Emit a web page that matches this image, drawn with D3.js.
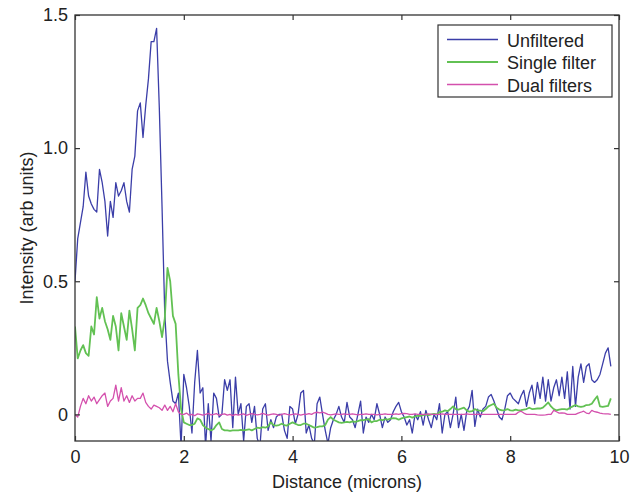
<!DOCTYPE html>
<html>
<head>
<meta charset="utf-8">
<script src="https://cdn.jsdelivr.net/npm/d3@7"></script>
<style>
  body { margin: 0; background: #fff; }
  svg { display: block; font-family: "Liberation Sans", Arial, sans-serif; }
  .axis text { font-size: 18px; fill: #222; }
  .axis line { stroke: #333; stroke-width: 1.2; }
  .axis path { display: none; }
</style>
</head>
<body>
<div class="grafic"></div>
<script>
// distance along the profile (microns), one sample every 0.05
const distance = [
  0, 0.05, 0.1, 0.15, 0.2, 0.25, 0.3, 0.35, 0.4, 0.45, 0.5, 0.55, 0.6, 0.65, 0.7, 0.75, 0.8, 0.85, 0.9, 0.95,
  1, 1.05, 1.1, 1.15, 1.2, 1.25, 1.3, 1.35, 1.4, 1.45, 1.5, 1.55, 1.6, 1.65, 1.7, 1.75, 1.8, 1.85, 1.9, 1.95,
  2, 2.05, 2.1, 2.15, 2.2, 2.25, 2.3, 2.35, 2.4, 2.45, 2.5, 2.55, 2.6, 2.65, 2.7, 2.75, 2.8, 2.85, 2.9, 2.95,
  3, 3.05, 3.1, 3.15, 3.2, 3.25, 3.3, 3.35, 3.4, 3.45, 3.5, 3.55, 3.6, 3.65, 3.7, 3.75, 3.8, 3.85, 3.9, 3.95,
  4, 4.05, 4.1, 4.15, 4.2, 4.25, 4.3, 4.35, 4.4, 4.45, 4.5, 4.55, 4.6, 4.65, 4.7, 4.75, 4.8, 4.85, 4.9, 4.95,
  5, 5.05, 5.1, 5.15, 5.2, 5.25, 5.3, 5.35, 5.4, 5.45, 5.5, 5.55, 5.6, 5.65, 5.7, 5.75, 5.8, 5.85, 5.9, 5.95,
  6, 6.05, 6.1, 6.15, 6.2, 6.25, 6.3, 6.35, 6.4, 6.45, 6.5, 6.55, 6.6, 6.65, 6.7, 6.75, 6.8, 6.85, 6.9, 6.95,
  7, 7.05, 7.1, 7.15, 7.2, 7.25, 7.3, 7.35, 7.4, 7.45, 7.5, 7.55, 7.6, 7.65, 7.7, 7.75, 7.8, 7.85, 7.9, 7.95,
  8, 8.05, 8.1, 8.15, 8.2, 8.25, 8.3, 8.35, 8.4, 8.45, 8.5, 8.55, 8.6, 8.65, 8.7, 8.75, 8.8, 8.85, 8.9, 8.95,
  9, 9.05, 9.1, 9.15, 9.2, 9.25, 9.3, 9.35, 9.4, 9.45, 9.5, 9.55, 9.6, 9.65, 9.7, 9.75, 9.8, 9.85
];

const unfiltered = [
  0.5, 0.66, 0.72, 0.78, 0.91, 0.82, 0.79, 0.77, 0.76, 0.92, 0.87, 0.8, 0.67, 0.8, 0.74, 0.87, 0.82, 0.84, 0.87, 0.8,
  0.76, 0.92, 0.97, 1.14, 1.17, 1.04, 1.16, 1.26, 1.4, 1.4, 1.45, 1.15, 0.78, 0.38, 0.2, 0.12, 0.05, 0.04, 0.08, -0.12,
  0.15, 0.1, 0.03, -0.07, 0.12, 0.24, 0.08, 0.1, -0.12, 0.04, -0.1, 0.08, 0.06, -0.01, 0.0, 0.13, 0.09, 0.13, -0.05, 0.14,
  0.0, 0.04, -0.1, 0.03, 0.04, -0.03, 0.03, -0.09, -0.12, 0.02, 0.04, -0.06, -0.02, -0.05, -0.01, 0.0, 0.0, -0.06, -0.09, 0.03,
  0.02, -0.035, 0.0, 0.08, 0.09, -0.07, -0.04, -0.09, -0.11, 0.04, 0.065, 0.0, -0.06, -0.11, -0.05, -0.02, 0.0, 0.03, -0.01, -0.03,
  0.045, -0.01, -0.02, -0.05, 0.0, 0.05, -0.07, -0.01, -0.03, 0.0, -0.02, 0.04, 0.0, -0.05, -0.01, -0.03, -0.02, 0.01, 0.03, 0.045,
  0.01, -0.01, -0.04, -0.02, -0.07, 0.0, -0.02, 0.01, -0.04, 0.015, -0.02, -0.05, 0.0, -0.02, 0.04, -0.07, 0.0, 0.01, -0.05, 0.0,
  0.065, -0.05, 0.0, -0.06, 0.01, 0.03, 0.09, -0.045, 0.02, -0.01, 0.02, 0.03, 0.065, 0.075, 0.05, 0.02, -0.01, -0.02, 0.02, 0.07,
  0.08, 0.06, 0.05, 0.04, 0.07, 0.09, 0.03, 0.08, 0.11, 0.04, 0.12, 0.06, 0.14, 0.05, 0.13, 0.05, 0.1, 0.13, 0.07, 0.14,
  0.06, 0.16, 0.02, 0.18, 0.03, 0.14, 0.19, 0.12, 0.18, 0.19, 0.13, 0.12, 0.13, 0.15, 0.19, 0.23, 0.25, 0.18
];

const singleFilter = [
  0.33, 0.21, 0.24, 0.26, 0.23, 0.22, 0.33, 0.3, 0.44, 0.36, 0.4, 0.35, 0.32, 0.28, 0.37, 0.33, 0.24, 0.38, 0.33, 0.28,
  0.39, 0.32, 0.24, 0.4, 0.41, 0.435, 0.41, 0.38, 0.36, 0.34, 0.4, 0.35, 0.29, 0.36, 0.55, 0.5, 0.37, 0.34, 0.15, 0.02,
  -0.03, -0.035, -0.04, -0.04, -0.035, -0.015, -0.02, -0.04, -0.05, -0.055, -0.06, -0.055, -0.04, -0.03, -0.055, -0.06, -0.06, -0.062, -0.06, -0.06,
  -0.06, -0.058, -0.06, -0.058, -0.056, -0.06, -0.055, -0.05, -0.052, -0.048, -0.05, -0.045, -0.03, -0.04, -0.042, -0.04, -0.035, -0.04, -0.042, -0.035,
  -0.03, -0.035, -0.04, -0.04, -0.035, -0.035, -0.04, -0.045, -0.05, -0.048, -0.045, -0.045, -0.04, -0.02, -0.01, -0.02, -0.025, -0.03, -0.032, -0.03,
  -0.028, -0.03, -0.026, -0.028, -0.025, -0.022, -0.022, -0.02, -0.018, -0.03, -0.025, -0.025, -0.02, -0.022, -0.018, -0.02, -0.016, -0.014, -0.015, -0.02,
  -0.015, -0.012, -0.01, -0.008, -0.012, -0.008, -0.005, -0.006, -0.003, 0.0, -0.003, 0.0, 0.002, 0.0, 0.008, 0.01, 0.015, 0.012, 0.02, 0.03,
  0.02, 0.018, 0.022, 0.025, 0.015, 0.01, 0.012, 0.02, 0.015, 0.014, 0.012, 0.02, 0.03, 0.035, 0.04, 0.025, 0.018, 0.015, 0.016, 0.02,
  0.015, 0.014, 0.018, 0.015, 0.016, 0.018, 0.02, 0.025, 0.02, 0.021, 0.022, 0.022, 0.025, 0.035, 0.045, 0.03, 0.02, 0.015, 0.018, 0.02,
  0.02, 0.018, 0.025, 0.03, 0.035, 0.03, 0.028, 0.03, 0.035, 0.036, 0.04, 0.055, 0.068, 0.03, 0.028, 0.03, 0.032, 0.06
];

const dualFilters = [
  0.0, -0.01, 0.03, 0.06, 0.04, 0.07, 0.05, 0.065, 0.04, 0.055, 0.07, 0.08, 0.03, 0.05, 0.06, 0.11, 0.05, 0.1, 0.05, 0.07,
  0.045, 0.07, 0.05, 0.06, 0.06, 0.08, 0.045, 0.03, 0.02, 0.035, 0.03, 0.025, 0.015, 0.035, 0.015, 0.03, 0.01, 0.04, 0.01, 0.0,
  0.0, 0.005, -0.003, 0.0, -0.005, 0.002, 0.0, -0.003, 0.0, 0.004, -0.002, 0.0, 0.003, -0.004, 0.0, 0.002, -0.003, 0.0, -0.005, 0.0,
  -0.003, 0.0, 0.002, -0.004, 0.0, 0.003, 0.0, -0.002, 0.0, 0.004, 0.0, -0.003, 0.0, 0.002, 0.0, -0.004, 0.0, 0.003, 0.0, -0.002,
  0.0, 0.002, 0.0, -0.003, 0.0, 0.0, 0.003, 0.0, 0.006, 0.008, 0.006, 0.008, 0.005, 0.0, -0.002, 0.0, 0.002, 0.0, 0.0, 0.002,
  0.0, 0.0, 0.002, 0.0, -0.002, 0.0, 0.0, 0.002, 0.0, 0.0, 0.0, -0.002, 0.0, 0.0, 0.002, 0.0, 0.0, 0.0, 0.002, 0.0,
  0.003, 0.004, 0.003, 0.0, 0.0, 0.002, 0.0, 0.0, 0.0, 0.0, 0.002, 0.0, 0.0, 0.0, 0.0, 0.002, 0.0, 0.0, 0.0, 0.0,
  0.0, 0.0, 0.0, 0.0, 0.002, 0.0, 0.0, 0.0, 0.0, 0.0, 0.0, 0.0, 0.0, 0.0, 0.0, 0.0, 0.0, 0.0, 0.0, 0.0,
  0.0, 0.0, 0.0, 0.008, 0.012, 0.005, 0.0, 0.0, 0.0, 0.0, -0.002, -0.003, -0.003, -0.002, 0.0, 0.0, 0.015, 0.01, 0.005, 0.006,
  0.005, 0.0, 0.0, 0.0, 0.0, 0.005, 0.008, 0.012, 0.005, 0.003, 0.015, 0.01, 0.008, 0.005, 0.003, 0.002, 0.002, 0.0
];

const seriesNames = ["Unfiltered", "Single filter", "Dual filters"];
const seriesColors = ["#3b3ea8", "#62c153", "#d450ad"];
const xTicks = [0, 2, 4, 6, 8, 10];
const yTicks = [0, 0.5, 1.0, 1.5];
const yTickLabels = ["0", "0.5", "1.0", "1.5"];

let w = 637, h = 496;
let margin = { left: 75, right: 18, top: 15, bottom: 55 };

let xScale = d3.scaleLinear()
    .domain([0, 10])
    .range([margin.left, w - margin.right]);

let yScale = d3.scaleLinear()
    .domain([-0.1, 1.5])
    .range([h - margin.bottom, margin.top]);

let svg = d3.select(".grafic")
    .append("svg")
    .attr("width", w)
    .attr("height", h);

svg.append("defs").append("clipPath")
    .attr("id", "plotClip")
    .append("rect")
    .attr("x", xScale(0))
    .attr("y", yScale(1.5))
    .attr("width", xScale(10) - xScale(0))
    .attr("height", yScale(-0.1) - yScale(1.5));

// the curves, drawn back to front
let allSeries = [unfiltered, singleFilter, dualFilters];
let widths = [1.3, 1.8, 1.3];
let line = d3.line()
    .x(d => xScale(d[0]))
    .y(d => yScale(d[1]));

let plot = svg.append("g").attr("clip-path", "url(#plotClip)");
allSeries.forEach((vals, k) => {
    let pts = distance.map((x, i) => [x, vals[i]]);
    plot.append("path")
        .datum(pts)
        .attr("fill", "none")
        .attr("stroke", seriesColors[k])
        .attr("stroke-width", widths[k])
        .attr("stroke-linejoin", "round")
        .attr("d", line);
});

// axes with ticks pointing inwards on all four sides
let fmtY = v => yTickLabels[yTicks.indexOf(v)];

svg.append("g")
    .attr("class", "axis")
    .attr("transform", "translate(0," + yScale(-0.1) + ")")
    .call(d3.axisBottom(xScale).tickValues(xTicks).tickSize(-5).tickPadding(9.5).tickFormat(d3.format("d")));

svg.append("g")
    .attr("class", "axis")
    .attr("transform", "translate(0," + yScale(1.5) + ")")
    .call(d3.axisTop(xScale).tickValues(xTicks).tickSize(-5).tickFormat(""));

svg.append("g")
    .attr("class", "axis")
    .attr("transform", "translate(" + xScale(0) + ",0)")
    .call(d3.axisLeft(yScale).tickValues(yTicks).tickSize(-5).tickPadding(7).tickFormat(fmtY));

svg.append("g")
    .attr("class", "axis")
    .attr("transform", "translate(" + xScale(10) + ",0)")
    .call(d3.axisRight(yScale).tickValues(yTicks).tickSize(-5).tickFormat(""));

// frame
svg.append("rect")
    .attr("x", xScale(0))
    .attr("y", yScale(1.5))
    .attr("width", xScale(10) - xScale(0))
    .attr("height", yScale(-0.1) - yScale(1.5))
    .attr("fill", "none")
    .attr("stroke", "#333")
    .attr("stroke-width", 1.3);

// axis titles
svg.append("text")
    .attr("x", (xScale(0) + xScale(10)) / 2)
    .attr("y", 488)
    .attr("text-anchor", "middle")
    .attr("font-size", 18)
    .attr("fill", "#222")
    .text("Distance (microns)");

svg.append("text")
    .attr("transform", "translate(33," + ((yScale(1.5) + yScale(-0.1)) / 2) + ") rotate(-90)")
    .attr("text-anchor", "middle")
    .attr("font-size", 18)
    .attr("fill", "#222")
    .text("Intensity (arb units)");

// legend
let legend = svg.append("g").attr("transform", "translate(438,25)");
legend.append("rect")
    .attr("width", 174)
    .attr("height", 72)
    .attr("fill", "#fff")
    .attr("stroke", "#333")
    .attr("stroke-width", 1.2);

seriesNames.forEach((name, k) => {
    let yy = 14.5 + k * 22.5;
    legend.append("line")
        .attr("x1", 9).attr("x2", 60)
        .attr("y1", yy).attr("y2", yy)
        .attr("stroke", seriesColors[k])
        .attr("stroke-width", widths[k]);
    legend.append("text")
        .attr("x", 69)
        .attr("y", yy + 7)
        .attr("font-size", 18)
        .attr("fill", "#222")
        .text(name);
});
</script>
</body>
</html>
